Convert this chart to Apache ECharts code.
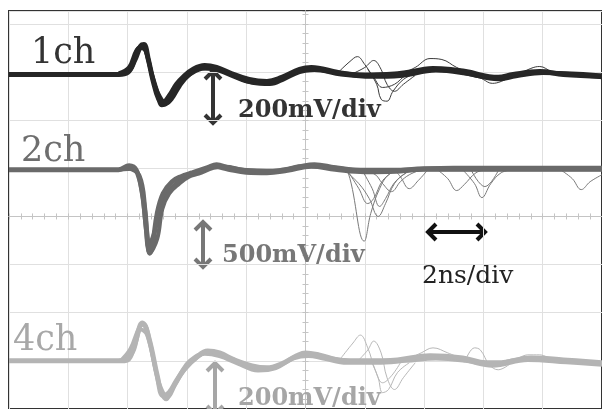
<!DOCTYPE html>
<html>
<head>
<meta charset="utf-8">
<script src="https://cdn.jsdelivr.net/npm/echarts@6/dist/echarts.min.js"></script>
<style>html,body{margin:0;padding:0;background:#fff}#c{width:602px;height:409px}</style>
</head>
<body>
<div id="c"></div>
<script>
// time in ns (2 ns/div, 0 = screen centre), amplitude in mV relative to each channel's baseline
const channels = ['1ch', '2ch', '4ch'];
const scaleLabels = ['200mV/div', '500mV/div', '200mV/div'];
const timeLabel = '2ns/div';
const mvPerDiv = [200, 500, 200];
const baselineDiv = [2.95, 0.97, -3.0];

const ch1Main = [[-10,0],[-6.3,0],[-6.0,8],[-5.75,62],[-5.55,120],[-5.45,124],[-5.3,62],[-5.15,-21],[-4.95,-103],[-4.8,-115],[-4.6,-90],[-4.35,-41],[-4.1,-8],[-3.8,21],[-3.4,37],[-3.0,29],[-2.5,4],[-1.9,-21],[-1.3,-29],[-0.8,-12],[-0.2,21],[0.2,29],[1.1,8],[2.0,-4],[3.1,0],[4.3,25],[4.9,21],[5.4,12],[6.5,-12],[7.0,0],[7.9,12],[8.7,0],[10,-8]];
const ch1Spread = [[-6.3,0],[-5.9,20],[-5.6,110],[-5.4,100],[-5.2,10],[-5.0,-70],[-4.85,-128],[-4.65,-118],[-4.4,-70],[-4.1,-20],[-3.7,14],[-3.3,28],[-2.9,20],[-2.4,-6],[-1.8,-35],[-1.2,-40],[-0.7,-18],[-0.2,10],[0.3,18],[1.2,0],[2.2,-10],[3.2,-6],[4.4,16],[5.4,4],[6.5,-20],[7.1,-8],[8.0,6],[10,-12]];
const ch1Edge = [[-6.3,4],[-5.95,30],[-5.7,100],[-5.5,118],[-5.35,80],[-5.1,-40],[-4.9,-95],[-4.7,-120],[-4.5,-100],[-4.25,-50],[-3.95,-5],[-3.5,25],[-3.1,22],[-2.6,0],[-2.0,-28],[-1.4,-34],[-0.9,-20],[-0.4,6],[0.1,24],[0.8,12],[1.8,0],[3.0,4],[4.2,20],[5.0,14],[6.3,-14],[7.0,-4],[7.8,8],[10,-4]];
const ch1Outliers = [
  [[1.1,8],[1.5,54],[1.75,74],[2.0,41],[2.3,-12],[2.6,-54],[3.0,-41],[3.4,-4],[4.0,8]],
  [[1.6,4],[2.0,29],[2.3,58],[2.55,21],[2.75,-41],[3.0,-70],[3.3,-41],[3.7,-4]],
  [[2.1,21],[2.4,-41],[2.55,-103],[2.75,-111],[2.95,-70],[3.3,-21],[3.7,4]],
  [[3.2,0],[3.7,29],[4.2,66],[4.6,62],[5.1,29],[5.6,4]],
  [[5.6,8],[6.0,-21],[6.3,-37],[6.6,-29],[7.0,-4]],
  [[7.2,0],[7.6,25],[7.9,33],[8.3,12],[8.7,0]]
];

const ch2Main = [[-10,0],[-6.3,0],[-5.95,41],[-5.7,-10],[-5.5,-247],[-5.35,-660],[-5.25,-866],[-5.15,-763],[-5.0,-454],[-4.8,-247],[-4.5,-124],[-4.2,-72],[-3.8,-31],[-3.3,21],[-3.0,52],[-2.6,21],[-2.0,-10],[-1.3,-21],[-0.7,0],[-0.2,31],[0.3,52],[1.0,21],[2.0,-10],[3.0,-10],[4.0,10],[6.0,10],[10,10]];
const ch2Spread = [[-6.3,0],[-5.8,10],[-5.55,-180],[-5.4,-560],[-5.3,-800],[-5.2,-740],[-5.05,-600],[-4.9,-420],[-4.65,-240],[-4.35,-140],[-4.0,-70],[-3.5,-10],[-3.1,30],[-2.6,0],[-2.0,-30],[-1.3,-35],[-0.6,-10],[0.2,30],[1.0,0],[2.0,-25],[3.0,-20],[4.0,0],[10,0]];
const ch2Edge = [[-6.0,20],[-5.6,-60],[-5.4,-420],[-5.25,-866],[-5.0,-717],[-4.83,-407],[-4.6,-247],[-4.26,-144],[-3.93,-72],[-3.6,-41],[-3.1,20],[-2.7,30],[-2.1,0],[-1.0,-10],[0.0,40],[0.8,30],[1.6,0],[3.0,0],[5.0,20],[10,20]];
const ch2Outliers = [
  [[1.2,0],[1.45,-41],[1.98,-742],[2.2,-454],[2.5,-196],[2.8,-52],[3.2,0]],
  [[1.3,0],[1.8,-144],[2.15,-299],[2.45,-485],[2.7,-351],[3.0,-144],[3.4,-31],[3.8,0]],
  [[1.5,0],[2.3,-41],[2.6,-144],[2.9,-227],[3.2,-124],[3.5,-52],[3.9,0]],
  [[3.0,0],[3.2,-72],[3.5,-196],[3.8,-113],[4.1,-10]],
  [[4.45,0],[4.8,-93],[5.1,-216],[5.35,-155],[5.75,-31],[6.1,0]],
  [[5.3,0],[5.7,-144],[5.95,-289],[6.25,-144],[6.6,-31],[7.0,0]],
  [[5.6,-10],[6.05,-175],[6.5,-10]],
  [[8.6,0],[9.0,-93],[9.3,-206],[9.6,-124],[10,-52]],
  [[1.4,0],[1.8,-196],[2.1,-351],[2.3,-299],[2.6,-113],[3.0,-10]],
  [[1.9,0],[2.25,-196],[2.5,-381],[2.7,-299],[3.0,-134],[3.4,-31]]
];

const ch4Main = [[-10,0],[-6.3,0],[-6.0,4],[-5.75,74],[-5.5,157],[-5.4,144],[-5.2,54],[-5.0,-62],[-4.8,-144],[-4.6,-132],[-4.35,-82],[-4.05,-29],[-3.7,12],[-3.3,41],[-2.9,33],[-2.4,4],[-1.8,-21],[-1.3,-29],[-0.8,-12],[-0.3,21],[0.0,33],[0.45,25],[1.1,4],[2.0,0],[3.1,4],[4.2,21],[5.3,12],[6.1,-8],[6.5,-8],[7.6,12],[8.7,4],[10,-8]];
const ch4Spread = [[-6.3,0],[-5.85,30],[-5.55,130],[-5.35,110],[-5.1,-10],[-4.9,-120],[-4.7,-160],[-4.5,-120],[-4.2,-50],[-3.9,0],[-3.4,30],[-2.9,20],[-2.3,-10],[-1.6,-40],[-1.0,-30],[-0.4,10],[0.1,20],[0.6,10],[1.4,-8],[2.4,-8],[3.4,0],[4.4,10],[5.4,0],[6.3,-20],[7.5,4],[8.8,-6],[10,-16]];
const ch4Edge = [[-6.2,4],[-5.9,50],[-5.6,140],[-5.45,150],[-5.25,80],[-5.05,-40],[-4.85,-120],[-4.65,-150],[-4.4,-100],[-4.1,-40],[-3.6,20],[-3.2,38],[-2.7,20],[-2.1,-12],[-1.5,-34],[-0.9,-20],[-0.4,14],[0.2,28],[0.9,10],[1.8,-4],[3.0,0],[4.2,14],[5.2,6],[6.2,-14],[7.4,8],[8.6,0],[10,-12]];
const ch4Outliers = [
  [[1.2,12],[1.6,74],[1.85,107],[2.1,54],[2.35,-37],[2.6,-91],[2.9,-62],[3.2,-8]],
  [[1.8,4],[2.1,45],[2.3,82],[2.55,33],[2.75,-70],[3.0,-119],[3.3,-70],[3.7,-8]],
  [[2.2,4],[2.45,-70],[2.6,-132],[2.8,-119],[3.1,-49],[3.5,-8]],
  [[3.4,4],[3.9,33],[4.3,54],[4.8,33],[5.2,12]],
  [[5.4,4],[5.7,54],[5.9,45],[6.2,-16],[6.5,-37],[6.9,-12]],
  [[7.1,4],[7.5,25],[7.9,25],[8.3,4]]
];

const toDiv = (pts, ch) => pts.map(p => [p[0], baselineDiv[ch] + p[1] / mvPerDiv[ch]]);

const colors = {
  main: ['#262626', '#6a6a6a', '#b4b4b4'],
  thin: ['#3a3a3a', '#7a7a7a', '#b8b8b8'],
  text: ['#333333', '#6e6e6e', '#a8a8a8']
};

const series = [];
function addChannel(ch, main, spread, edge, outliers) {
  outliers.forEach(o => series.push({type:'line', data: toDiv(o, ch), smooth: 0.4, showSymbol:false, silent:true,
    lineStyle:{color: colors.thin[ch], width: 1}, z: 2}));
  [edge, spread].forEach(s => series.push({type:'line', data: toDiv(s, ch), smooth: 0.4, showSymbol:false, silent:true,
    lineStyle:{color: colors.main[ch], width: 4}, z: 3}));
  series.push({type:'line', data: toDiv(main, ch), smooth: 0.4, showSymbol:false, silent:true,
    lineStyle:{color: colors.main[ch], width: 5}, z: 3});
}
addChannel(2, ch4Main, ch4Spread, ch4Edge, ch4Outliers);
addChannel(1, ch2Main, ch2Spread, ch2Edge, ch2Outliers);
addChannel(0, ch1Main, ch1Spread, ch1Edge, ch1Outliers);

const gridC = '#e0e0e0', axC = '#c4c4c4';
const xBase = {type:'value', min:-10, max:10, interval:2, axisLabel:{show:false}};
const yBase = {type:'value', min:-4, max:4.268, interval:1, axisLabel:{show:false}};

function vArrow(x, y1, y2, color) {
  return {type:'group', z:10, children:[
    {type:'line', shape:{x1:x, y1:y1+2, x2:x, y2:y2-2}, style:{stroke:color, lineWidth:4}},
    {type:'polyline', shape:{points:[[x-8,y1+9],[x,y1+1],[x+8,y1+9]]}, style:{stroke:color, lineWidth:4, fill:null}},
    {type:'polyline', shape:{points:[[x-8,y2-9],[x,y2-1],[x+8,y2-9]]}, style:{stroke:color, lineWidth:4, fill:null}}
  ]};
}
function hArrow(y, x1, x2, color) {
  return {type:'group', z:10, children:[
    {type:'line', shape:{x1:x1+2, y1:y, x2:x2-2, y2:y}, style:{stroke:color, lineWidth:4}},
    {type:'polyline', shape:{points:[[x1+9,y-8],[x1+1,y],[x1+9,y+8]]}, style:{stroke:color, lineWidth:4, fill:null}},
    {type:'polyline', shape:{points:[[x2-9,y-8],[x2-1,y],[x2-9,y+8]]}, style:{stroke:color, lineWidth:4, fill:null}}
  ]};
}
function txt(s, x, y, size, color, bold) {
  return {type:'text', x:x, y:y, z:10, style:{text:s, fill:color, font:(bold?'bold ':'') + size + 'px "DejaVu Serif"', textVerticalAlign:'bottom'}};
}

const chart = echarts.init(document.getElementById('c'), null, {renderer:'canvas'});
chart.setOption({
  animation:false,
  backgroundColor:'#fff',
  grid:{left:9, right:-3, top:11, bottom:-3, show:true, borderColor:'#333', borderWidth:2, backgroundColor:'transparent'},
  xAxis:[
    Object.assign({}, xBase, {position:'bottom', axisLine:{onZero:true, lineStyle:{color:axC}}, axisTick:{show:true, length:3, lineStyle:{color:axC}},
      minorTick:{show:true, splitNumber:5, length:3, lineStyle:{color:axC}}, splitLine:{show:true, lineStyle:{color:gridC}}}),
    Object.assign({}, xBase, {position:'bottom', axisLine:{onZero:true, lineStyle:{color:axC}}, axisTick:{show:true, inside:true, length:3, lineStyle:{color:axC}},
      minorTick:{show:true, splitNumber:5, length:3, lineStyle:{color:axC}}, splitLine:{show:false}})
  ],
  yAxis:[
    Object.assign({}, yBase, {position:'left', axisLine:{show:false}, axisTick:{show:false}, splitLine:{show:true, lineStyle:{color:gridC}}}),
    Object.assign({}, yBase, {position:'left', axisLine:{show:true, onZero:true, onZeroAxisIndex:0, lineStyle:{color:axC}}, axisTick:{show:true, length:3, lineStyle:{color:axC}},
      minorTick:{show:true, splitNumber:5, length:3, lineStyle:{color:axC}}, splitLine:{show:false}}),
    Object.assign({}, yBase, {position:'left', axisLine:{show:true, onZero:true, onZeroAxisIndex:0, lineStyle:{color:axC}}, axisTick:{show:true, inside:true, length:3, lineStyle:{color:axC}},
      minorTick:{show:true, splitNumber:5, length:3, lineStyle:{color:axC}}, splitLine:{show:false}})
  ],
  series: series,
  graphic:[
    txt(channels[0], 31, 71, 35, colors.text[0], false),
    txt(channels[1], 21, 169, 35, colors.text[1], false),
    txt(channels[2], 13, 358, 35, colors.text[2], false),
    vArrow(213, 70, 124, '#333'),
    txt(scaleLabels[0], 238, 123, 24, colors.text[0], true),
    vArrow(203, 221, 268, '#777'),
    txt(scaleLabels[1], 222, 268, 24, '#777', true),
    hArrow(232, 427, 486, '#111'),
    txt(timeLabel, 422, 289, 25, '#222', false),
    vArrow(215, 362, 415, '#a6a6a6'),
    txt(scaleLabels[2], 238, 411, 24, '#a6a6a6', true)
  ]
});
</script>
</body>
</html>
